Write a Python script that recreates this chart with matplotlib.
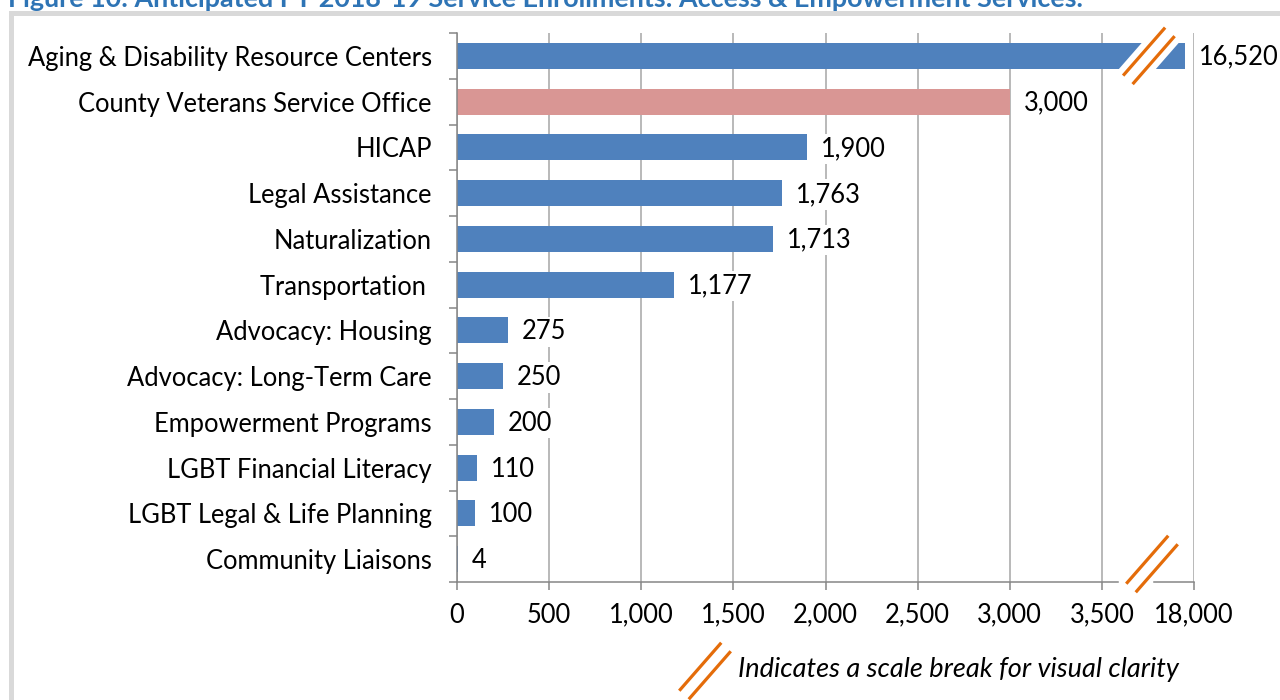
import matplotlib
matplotlib.use("Agg")
import matplotlib.pyplot as plt
from matplotlib.lines import Line2D
from matplotlib.patches import Polygon, Rectangle
from matplotlib.transforms import IdentityTransform

plt.rcParams['font.family'] = ['Lato', 'DejaVu Sans']

# ---- data ----
categories = ["Aging & Disability Resource Centers", "County Veterans Service Office", "HICAP",
              "Legal Assistance", "Naturalization", "Transportation ", "Advocacy: Housing",
              "Advocacy: Long-Term Care", "Empowerment Programs", "LGBT Financial Literacy",
              "LGBT Legal & Life Planning", "Community Liaisons"]
values = [16520, 3000, 1900, 1763, 1713, 1177, 275, 250, 200, 110, 100, 4]
tick_values = [0, 500, 1000, 1500, 2000, 2500, 3000, 3500, 18000]
tick_labels = ["0", "500", "1,000", "1,500", "2,000", "2,500", "3,000", "3,500", "18,000"]
highlight = "County Veterans Service Office"
title = "Figure 10: Anticipated FY 2018-19 Service Enrollments: Access & Empowerment Services."
note = "Indicates a scale break for visual clarity"

BLUE = "#4F81BD"
PINK = "#D99694"
ORANGE = "#E46C0A"
GRID = "#A6A6A6"
FS = 18.4

BREAK_LO, BREAK_HI, BREAK_SPAN = 3500, 18000, 500


def to_display(v):
    if v <= BREAK_LO:
        return v
    return BREAK_LO + (v - BREAK_LO) * BREAK_SPAN / (BREAK_HI - BREAK_LO)


W, H = 1280, 700
fig = plt.figure(figsize=(W / 100, H / 100), dpi=100)
ax = fig.add_axes([457 / W, 1 - 582 / H, (1194 - 457) / W, (582 - 33) / H])

ypos = list(range(len(categories)))
disp = [to_display(v) for v in values]
colors = [PINK if c == highlight else BLUE for c in categories]
ax.barh(ypos, disp, height=0.57, color=colors, zorder=2)

ax.set_xlim(0, to_display(BREAK_HI))
ax.set_ylim(len(categories) - 0.5, -0.5)

ax.set_xticks([to_display(t) for t in tick_values])
ax.set_xticklabels(tick_labels)
ax.set_yticks(ypos)
ax.set_yticklabels(categories)
ax.set_yticks([i - 0.5 for i in range(len(categories) + 1)], minor=True)

ax.tick_params(axis='y', which='major', length=0, pad=18, labelsize=FS)
ax.tick_params(axis='y', which='minor', length=5.8, width=1.1, color="#868686", direction='out')
ax.tick_params(axis='x', which='major', length=5.8, width=1.1, color="#868686", pad=9, labelsize=FS)

ax.grid(axis='x', color=GRID, lw=1.1, zorder=0)
ax.set_axisbelow(True)
for s in ['top', 'right', 'bottom']:
    ax.spines[s].set_visible(False)
ax.spines['left'].set_color("#868686")
ax.spines['left'].set_linewidth(1.1)

# bottom axis line with gap at the break
gap_lo, gap_hi = 3590, 3785
tr = ax.get_xaxis_transform()
ax.plot([0, gap_lo], [0, 0], color="#868686", lw=1.1, transform=tr, clip_on=False, zorder=3)
ax.plot([gap_hi, to_display(BREAK_HI)], [0, 0], color="#868686", lw=1.1, transform=tr, clip_on=False, zorder=3)

# value labels
for y, v, d in zip(ypos, values, disp):
    ax.annotate(f"{v:,}", xy=(d, y), xytext=(10, -1), textcoords='offset points',
                ha='left', va='center', fontsize=FS, color='black', zorder=5,
                bbox=dict(boxstyle='square,pad=0.1', fc='white', ec='none'), annotation_clip=False)

idt = IdentityTransform()


def break_marks(cx, cy, white=None):
    # cx, cy in display pixels (origin bottom-left)
    dx, dy = 21, 24
    sep = 9.5
    if white is not None:
        hw, hh = 18.5, white
        k = dx / dy
        pts = [(cx - hw - hh * k, cy - hh), (cx + hw - hh * k, cy - hh),
               (cx + hw + hh * k, cy + hh), (cx - hw + hh * k, cy + hh)]
        fig.add_artist(Polygon(pts, closed=True, fc='white', ec='none', transform=idt, zorder=10))
    for off in (-sep / 2, sep / 2):
        fig.add_artist(Line2D([cx + off - dx, cx + off + dx], [cy - off * 0.9 - dy, cy - off * 0.9 + dy],
                              color=ORANGE, lw=2.3, transform=idt, zorder=11, solid_capstyle='butt'))


fig.canvas.draw()
bx, by = ax.transData.transform((3755, 0))
break_marks(bx, by, white=14)
bx2, by2 = ax.transData.transform((3772, len(categories) - 0.5))
break_marks(bx2, by2 + 18, white=8)

# legend note
break_marks(705, H - 671)
fig.text(738 / W, 1 - 670 / H, note, fontsize=19.5, style='italic', ha='left', va='center')

# frame and (partly clipped) title, as in the reference
fig.add_artist(Rectangle((10.5, -20), 1400, H - 12.5 + 20, transform=idt, fill=False,
                         ec="#D9D9D9", lw=3.6, zorder=-1))
fig.text(8 / W, 1 - 7 / H, title, fontsize=19.4, fontweight='bold', color="#2E74B5",
         ha='left', va='baseline')

fig.savefig("out.png", dpi=100)
